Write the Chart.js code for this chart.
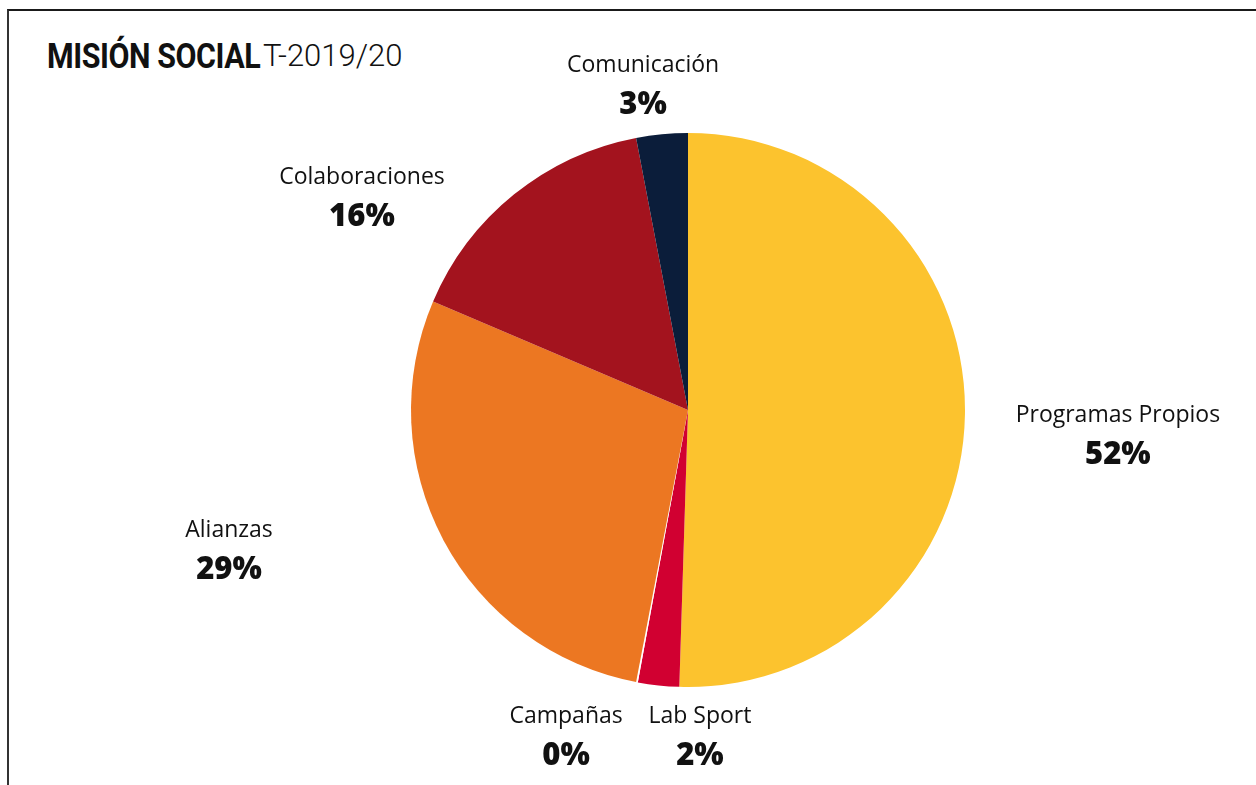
<!DOCTYPE html>
<html lang="es">
<head>
<meta charset="utf-8">
<title>Misión Social T-2019/20</title>
<script src="https://cdn.jsdelivr.net/npm/chart.js@4/dist/chart.umd.min.js"></script>
<style>
  html, body { margin: 0; padding: 0; background: #fff; }
  #wrap { position: relative; width: 1256px; height: 785px; overflow: hidden; }
  #frame { position: absolute; left: 7px; top: 9px; right: -10px; bottom: -10px;
           border-top: 2px solid #1a1a1a; border-left: 2px solid #333; }
  #title { position: absolute; left: 47px; top: 36px; white-space: nowrap; color: #111; }
  #title span { position: absolute; top: 0; }
  #title .b { left: 0; font-family: "Roboto", sans-serif; font-weight: 700; font-size: 35px;
              letter-spacing: -0.5px; transform: scaleX(0.87); transform-origin: 0 50%; }
  #title .l { left: 216px; top: 1px; font-family: "Roboto", sans-serif; font-weight: 300; font-size: 31px; }
  canvas { position: absolute; left: 0; top: 0; }
</style>
</head>
<body>
<div id="wrap">
  <div id="frame"></div>
  <div id="title"><span class="b">MISIÓN SOCIAL</span><span class="l">T-2019/20</span></div>
  <canvas id="pie" width="1256" height="785"></canvas>
</div>
<script>
// categories and values (slice sizes, label text as printed)
const categories = ['Programas Propios', 'Lab Sport', 'Campañas', 'Alianzas', 'Colaboraciones', 'Comunicación'];
const shares = [50.5, 2.4, 0.1, 28.4, 15.6, 3.0];
const printedPct = ['52%', '2%', '0%', '29%', '16%', '3%'];
const colors = ['#FCC32E', '#D10031', '#FFFFFF', '#EC7722', '#A3131E', '#0B1D3A'];

// where each label sits, relative to the pie centre in radius units (name baseline)
const labelAnchors = [[1.552, 0.043], [0.043, 1.13], [-0.44, 1.13], [-1.657, 0.458], [-1.177, -0.816], [-0.162, -1.22]];

const outsideLabels = {
  id: 'outsideLabels',
  afterDraw(chart) {
    const arc = chart.getDatasetMeta(0).data[0];
    if (!arc) return;
    const { x, y, outerRadius: r } = arc;
    const ctx = chart.ctx;
    ctx.save();
    ctx.textAlign = 'center';
    ctx.textBaseline = 'alphabetic';
    ctx.fillStyle = '#111';
    categories.forEach((name, i) => {
      const [ax, ay] = labelAnchors[i];
      const lx = x + ax * r, ly = y + ay * r;
      ctx.font = '400 23px "Open Sans", sans-serif';
      ctx.fillText(name, lx, ly);
      ctx.font = '800 31px "Open Sans", sans-serif';
      ctx.fillText(printedPct[i], lx, ly + 42);
    });
    ctx.restore();
  }
};

new Chart(document.getElementById('pie'), {
  type: 'pie',
  data: {
    labels: categories,
    datasets: [{
      data: shares,
      backgroundColor: colors,
      borderWidth: 0
    }]
  },
  options: {
    responsive: false,
    animation: false,
    layout: { padding: { left: 411, right: 291, top: 133, bottom: 98 } },
    plugins: { legend: { display: false }, tooltip: { enabled: false } }
  },
  plugins: [outsideLabels]
});
</script>
</body>
</html>
